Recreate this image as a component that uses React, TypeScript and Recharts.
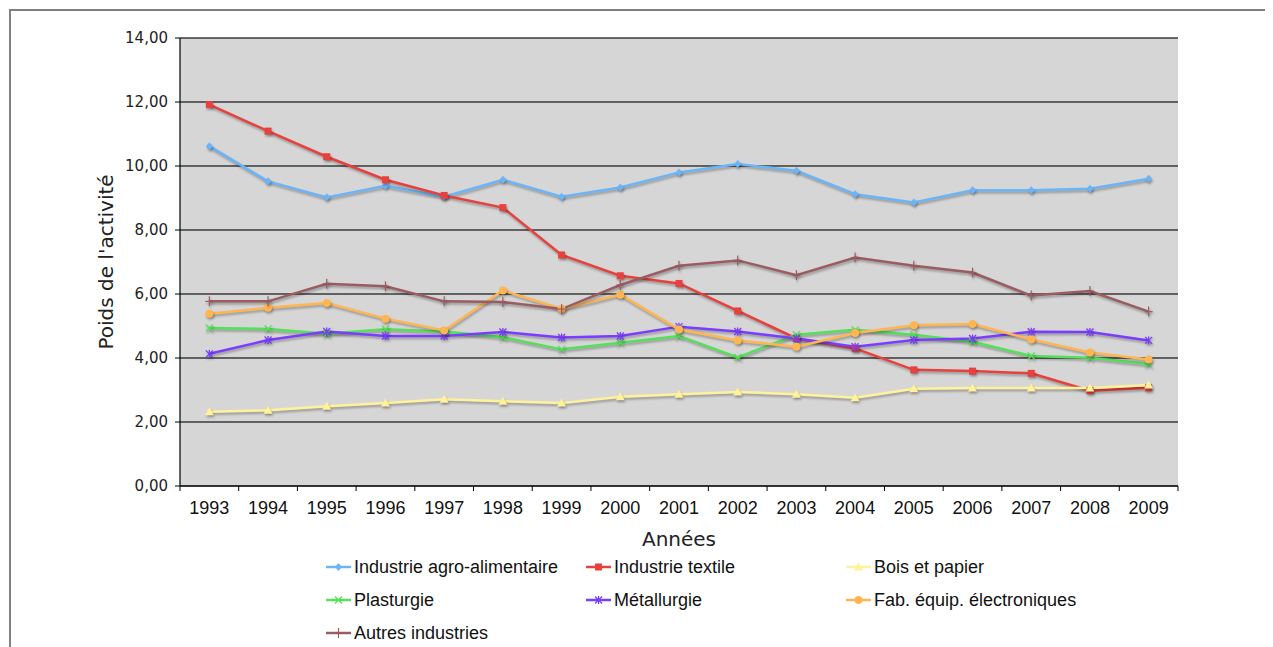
import React from 'react';
import { LineChart, Line, XAxis, YAxis, CartesianGrid, Legend } from 'recharts';

const years = ['1993', '1994', '1995', '1996', '1997', '1998', '1999', '2000', '2001', '2002', '2003', '2004', '2005', '2006', '2007', '2008', '2009'];

const agro = [10.62, 9.52, 9.02, 9.38, 9.04, 9.57, 9.04, 9.33, 9.8, 10.06, 9.85, 9.12, 8.86, 9.24, 9.24, 9.29, 9.6];
const textile = [11.92, 11.09, 10.29, 9.57, 9.08, 8.7, 7.22, 6.57, 6.33, 5.47, 4.61, 4.3, 3.63, 3.59, 3.52, 2.98, 3.07];
const bois = [2.32, 2.37, 2.49, 2.59, 2.71, 2.65, 2.59, 2.79, 2.87, 2.94, 2.87, 2.76, 3.04, 3.06, 3.06, 3.06, 3.16];
const plasturgie = [4.94, 4.91, 4.76, 4.9, 4.83, 4.65, 4.27, 4.48, 4.69, 4.02, 4.73, 4.88, 4.73, 4.51, 4.06, 4.01, 3.81];
const metallurgie = [4.13, 4.56, 4.83, 4.69, 4.69, 4.81, 4.64, 4.69, 4.98, 4.83, 4.61, 4.35, 4.56, 4.61, 4.82, 4.81, 4.55];
const electronique = [5.38, 5.57, 5.72, 5.23, 4.86, 6.11, 5.53, 5.98, 4.89, 4.55, 4.35, 4.78, 5.02, 5.06, 4.58, 4.17, 3.95];
const autres = [5.77, 5.77, 6.32, 6.24, 5.77, 5.75, 5.53, 6.28, 6.88, 7.05, 6.59, 7.14, 6.88, 6.67, 5.95, 6.09, 5.45];

const yTicks = [0, 2, 4, 6, 8, 10, 12, 14];

const series = [
  { key: 'agro', name: 'Industrie agro-alimentaire', values: agro, color: '#6cb4f8', shape: 'diamond' },
  { key: 'textile', name: 'Industrie textile', values: textile, color: '#e8413d', shape: 'square' },
  { key: 'bois', name: 'Bois et papier', values: bois, color: '#fff29a', shape: 'triangle' },
  { key: 'plasturgie', name: 'Plasturgie', values: plasturgie, color: '#55e05a', shape: 'x' },
  { key: 'metallurgie', name: 'Métallurgie', values: metallurgie, color: '#7a3dff', shape: 'star' },
  { key: 'electronique', name: 'Fab. équip. électroniques', values: electronique, color: '#ffb552', shape: 'circle' },
  { key: 'autres', name: 'Autres industries', values: autres, color: '#9a5c61', shape: 'plus' },
];

const data = years.map((year, i) => {
  const row: any = { year };
  series.forEach(s => { row[s.key] = s.values[i]; });
  return row;
});

const CHART_W = 1265;
const CHART_H = 639;
const MARGIN = { top: 30, right: 95, left: 0, bottom: 131 };
const Y_AXIS_W = 172;
const PLOT_W = CHART_W - MARGIN.right - MARGIN.left - Y_AXIS_W;
const STEP = PLOT_W / years.length;

function Marker({ cx, cy, shape, color }: any) {
  if (cx == null || cy == null) return null;
  switch (shape) {
    case 'diamond':
      return <polygon points={`${cx},${cy - 4} ${cx + 3.5},${cy} ${cx},${cy + 4} ${cx - 3.5},${cy}`} fill={color} />;
    case 'square':
      return <rect x={cx - 3.5} y={cy - 3.5} width={7} height={7} fill={color} />;
    case 'triangle':
      return <polygon points={`${cx},${cy - 4.5} ${cx + 4.5},${cy + 3.5} ${cx - 4.5},${cy + 3.5}`} fill={color} />;
    case 'x':
      return (
        <g stroke={color} strokeWidth={1.3}>
          <line x1={cx - 3.5} y1={cy - 3.5} x2={cx + 3.5} y2={cy + 3.5} />
          <line x1={cx - 3.5} y1={cy + 3.5} x2={cx + 3.5} y2={cy - 3.5} />
        </g>
      );
    case 'star':
      return (
        <g stroke={color} strokeWidth={1.3}>
          <line x1={cx - 3.5} y1={cy - 3.5} x2={cx + 3.5} y2={cy + 3.5} />
          <line x1={cx - 3.5} y1={cy + 3.5} x2={cx + 3.5} y2={cy - 3.5} />
          <line x1={cx} y1={cy - 4} x2={cx} y2={cy + 4} />
        </g>
      );
    case 'circle':
      return <circle cx={cx} cy={cy} r={4} fill={color} />;
    case 'plus':
      return (
        <g stroke={color} strokeWidth={1.2}>
          <line x1={cx} y1={cy - 5} x2={cx} y2={cy + 5} />
          <line x1={cx - 4} y1={cy} x2={cx + 4} y2={cy} />
        </g>
      );
    default:
      return null;
  }
}

function YearTick({ x, y, payload, index }: any) {
  const last = index === years.length - 1;
  return (
    <g>
      <line x1={x - STEP / 2} x2={x - STEP / 2} y1={y} y2={y + 5} stroke="#000" />
      {last && <line x1={x + STEP / 2} x2={x + STEP / 2} y1={y} y2={y + 5} stroke="#000" />}
      <text x={x} y={y + 28} textAnchor="middle" fontFamily="'Liberation Sans', Arial, sans-serif" fontSize={18} fill="#111">
        {payload.value}
      </text>
    </g>
  );
}

function YTitle({ viewBox }: any) {
  const cx = viewBox.x + 105;
  const cy = viewBox.y + viewBox.height / 2;
  return (
    <text x={cx} y={cy} transform={`rotate(-90, ${cx}, ${cy})`} textAnchor="middle" fontFamily="'DejaVu Sans', Verdana, sans-serif" fontSize={20} fill="#222">
      Poids de l'activité
    </text>
  );
}

function XTitle({ viewBox }: any) {
  return (
    <text x={viewBox.x + viewBox.width / 2} y={viewBox.y + 60} textAnchor="middle" fontFamily="'DejaVu Sans', Verdana, sans-serif" fontSize={20} fill="#222">
      Années
    </text>
  );
}

function LegendBox() {
  return (
    <div style={{ position: 'relative', width: 800, height: 100, fontFamily: "'Liberation Sans', Arial, sans-serif", fontSize: 18, color: '#111' }}>
      {series.map((s, i) => {
        const col = i % 3;
        const row = Math.floor(i / 3);
        return (
          <div key={s.key} style={{ position: 'absolute', left: col * 260, top: row * 33, height: 22, display: 'flex', alignItems: 'center', whiteSpace: 'nowrap' }}>
            <svg width={25} height={12} style={{ marginRight: 3 }}>
              <line x1={0} x2={25} y1={6} y2={6} stroke={s.color} strokeWidth={2.5} />
              <Marker cx={12.5} cy={6} shape={s.shape} color={s.color} />
            </svg>
            <span>{s.name}</span>
          </div>
        );
      })}
    </div>
  );
}

export default function App() {
  return (
    <div style={{ position: 'relative', width: CHART_W, height: CHART_H, background: '#fff' }}>
      <style>{`
        .recharts-line-curve, .recharts-line-dots { filter: drop-shadow(1px 2px 1px rgba(0,0,0,0.3)); }
      `}</style>
      <div style={{ position: 'absolute', left: 1, top: 1, right: -10, bottom: -10, borderTop: '2px solid #808080', borderLeft: '2px solid #808080' }} />
      <LineChart width={CHART_W} height={CHART_H} data={data} margin={MARGIN}>
        <CartesianGrid vertical={false} stroke="#3a3a3a" strokeWidth={1.4} fill="#d6d6d6" />
        <XAxis
          dataKey="year"
          height={30}
          padding={{ left: STEP / 2, right: STEP / 2 }}
          tickLine={false}
          tickSize={0}
          tickMargin={0}
          interval={0}
          axisLine={{ stroke: '#000', strokeWidth: 1.2 }}
          tick={<YearTick />}
          label={<XTitle />}
        />
        <YAxis
          width={Y_AXIS_W}
          domain={[0, 14]}
          ticks={yTicks}
          interval={0}
          tickSize={5}
          tickMargin={7}
          tickLine={{ stroke: '#000' }}
          axisLine={{ stroke: '#000', strokeWidth: 1.2 }}
          tickFormatter={(v: number) => v.toFixed(2).replace('.', ',')}
          tick={{ fontFamily: "'DejaVu Sans', Verdana, sans-serif", fontSize: 15, fill: '#222' }}
          label={<YTitle />}
        />
        <YAxis yAxisId="frame" orientation="right" width={0} domain={[0, 14]} tick={false} tickLine={false} axisLine={{ stroke: '#8c8c8c', strokeWidth: 1.5 }} />
        <Legend
          layout="horizontal"
          align="center"
          verticalAlign="middle"
          content={() => <LegendBox />}
          wrapperStyle={{ position: 'absolute', left: 318, top: 548, width: 800, height: 100 }}
        />
        {series.map(s => (
          <Line
            key={s.key}
            type="linear"
            dataKey={s.key}
            name={s.name}
            stroke={s.color}
            strokeWidth={2.5}
            isAnimationActive={false}
            dot={(p: any) => <Marker key={`${s.key}-${p.index}`} cx={p.cx} cy={p.cy} shape={s.shape} color={s.color} />}
            activeDot={false}
          />
        ))}
      </LineChart>
    </div>
  );
}
